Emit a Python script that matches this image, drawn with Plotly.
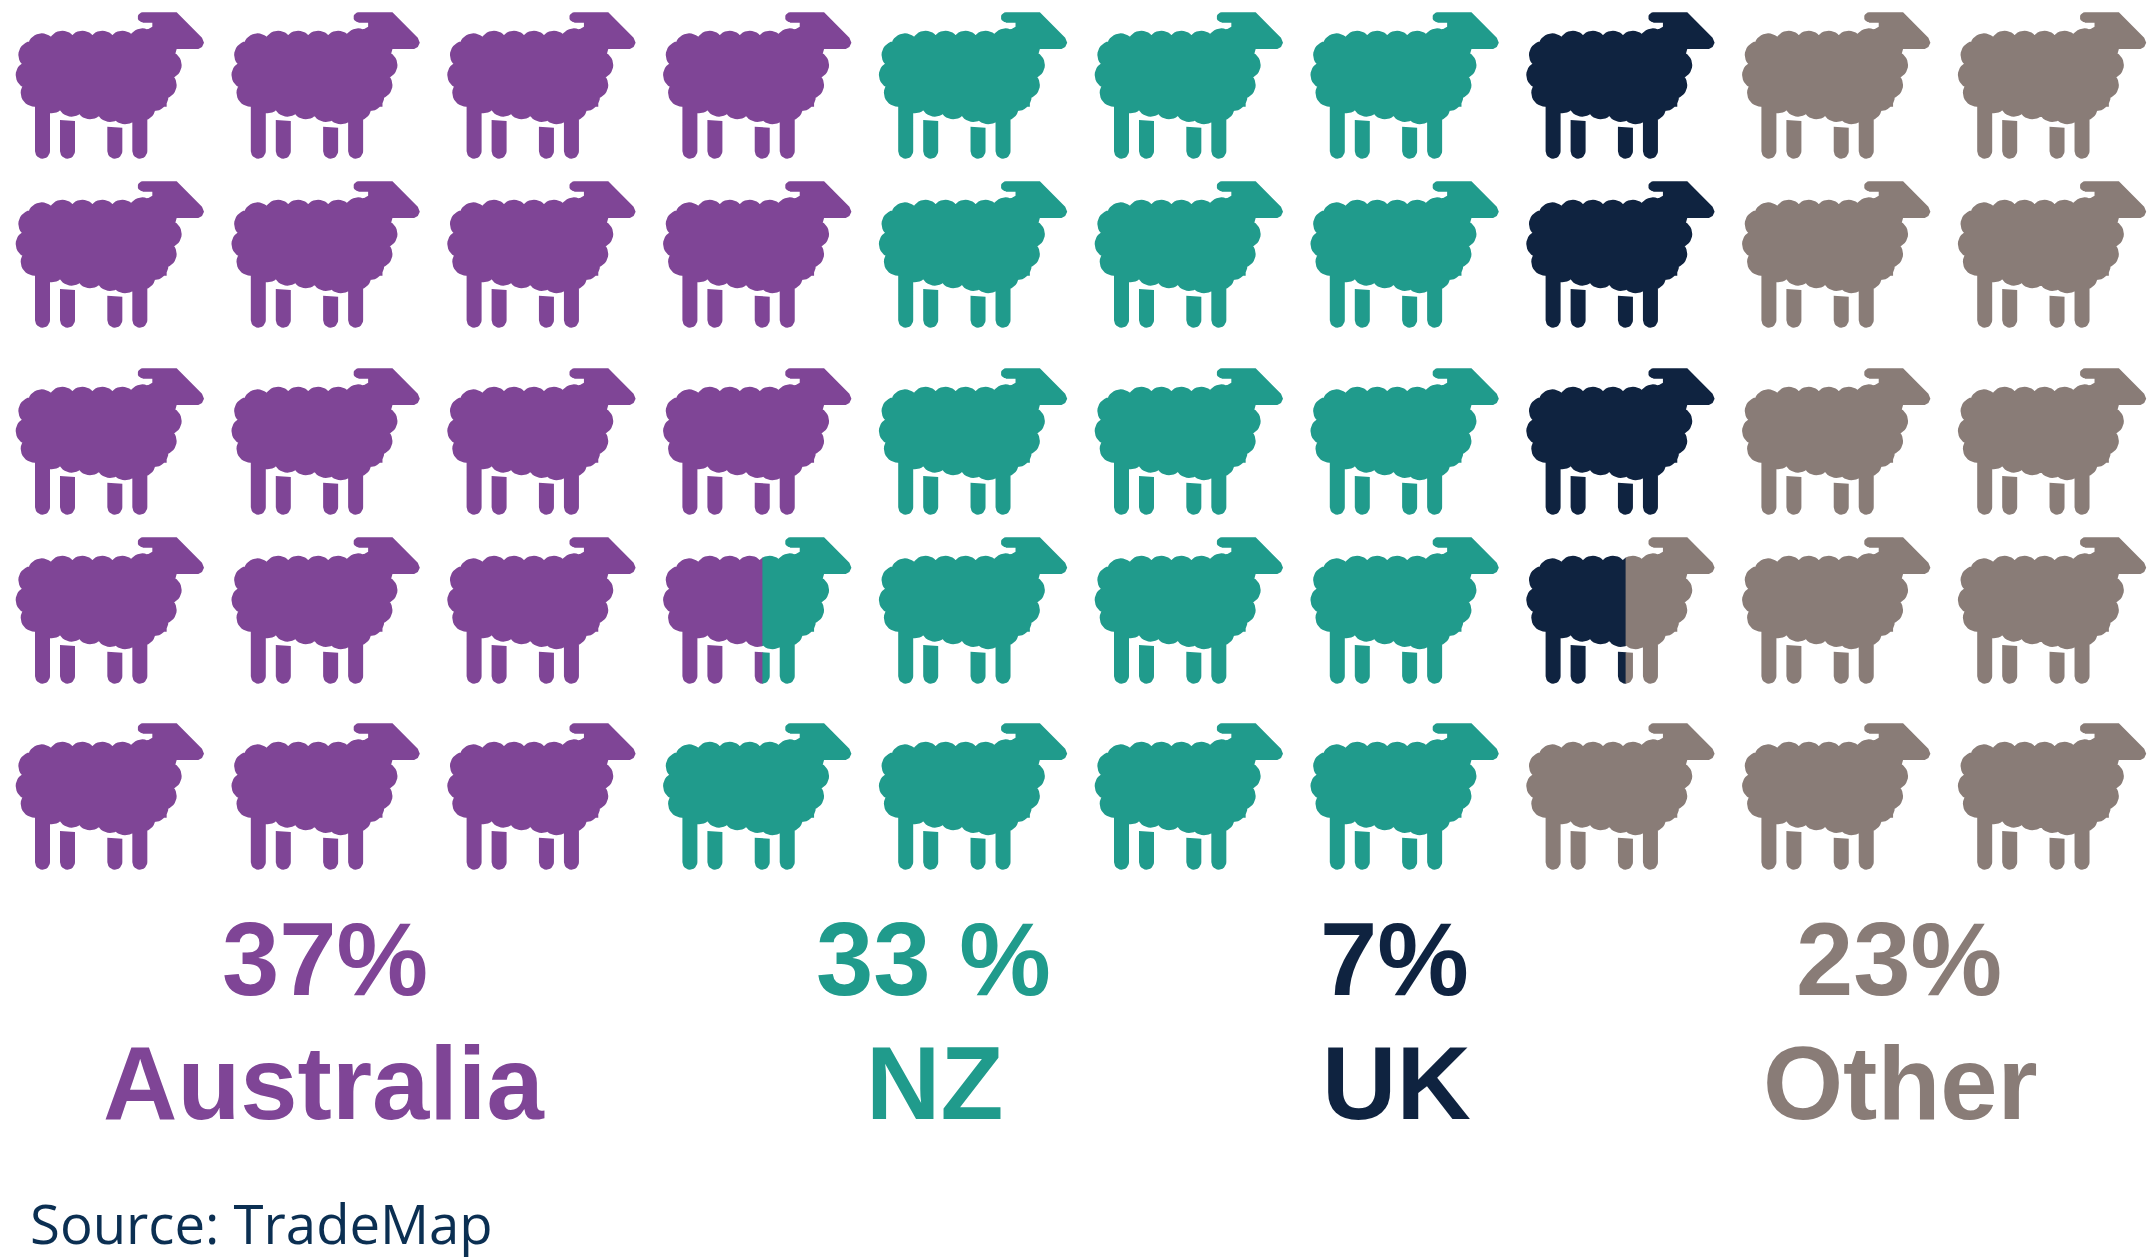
import math
import plotly.graph_objects as go

REGIONS = ["Australia", "NZ", "UK", "Other"]
SHARES = [37, 33, 7, 23]
SHARE_LABELS = ["37%", "33 %", "7%", "23%"]
COLORS = ["#7F4596", "#209B8C", "#0F2340", "#897C77"]
SOURCE = "Source: TradeMap"

N_COLS = 10
N_ROWS = 5
PCT_PER_SHEEP = 2
COL_X = [16 + 215.8 * c for c in range(N_COLS)]
ROW_Y = [0, 169, 356, 525, 711]
SHARE_LABEL_X = [325, 933, 1394, 1899]
NAME_LABEL_X = [323, 934, 1396, 1900]

# Sheep glyph in local pixels (origin at top-left of first sheep's box)
S = 1 / 3
WOOL = [(125,142),(187,134),(247,134),(307,134),(367,134),(427,127),
        (97,165),(89,225),(104,278),(155,298),(215,308),(270,316),(330,324),
        (375,331),(425,321),(463,291),(488,255),(503,195)]
WOOL_R = 42
BODY = [(110,130),(500,130),(500,320),(110,320)]
HEAD = [(428,37),(530,37),(606,113),(612,128),(606,141),(595,147),(530,147),(515,200),(440,200),
        (440,90),(457,80),(457,68),(428,68)]
NOSE = (428,52,15)
LEGS = [(105,150,300,300),(180,225,360,363),(322,367,380,383),(397,442,340,340)]
LEG_BOTTOM = 476
GLYPH_X0 = 16
SPLIT_LOCAL_X = 115


def circle(cx, cy, r, n=36):
    return [(cx + r * math.cos(-2*math.pi*i/n), cy + r * math.sin(-2*math.pi*i/n)) for i in range(n)]


def orient(p):
    a = sum(p[i][0]*p[(i+1) % len(p)][1] - p[(i+1) % len(p)][0]*p[i][1] for i in range(len(p)))
    return p if a < 0 else p[::-1]


def leg(x0, x1, top0, top1):
    r = (x1 - x0) / 2
    cx = (x0 + x1) / 2
    cy = LEG_BOTTOM - r
    pts = [(x0, top0), (x1, top1)]
    for i in range(13):
        t = math.pi * i / 12
        pts.append((cx + r * math.cos(t), cy + r * math.sin(t)))
    return pts


GLYPH = [orient(BODY), orient(HEAD), orient(circle(*NOSE, n=20))]
GLYPH += [orient(circle(x, y, WOOL_R)) for x, y in WOOL]
GLYPH += [orient(leg(*l)) for l in LEGS]
GLYPH = [[(x*S, y*S) for x, y in p] for p in GLYPH]


def clip(poly, split, keep_left):
    out = []
    for i in range(len(poly)):
        a, b = poly[i], poly[(i+1) % len(poly)]
        ina = a[0] <= split if keep_left else a[0] >= split
        inb = b[0] <= split if keep_left else b[0] >= split
        if ina:
            out.append(a)
        if ina != inb:
            t = (split - a[0]) / (b[0] - a[0])
            out.append((split, a[1] + t * (b[1] - a[1])))
    return out


# Walk the shares column by column: each sheep is worth PCT_PER_SHEEP percent
xs = {i: [] for i in range(len(REGIONS))}
ys = {i: [] for i in range(len(REGIONS))}


def add(i, col, row, polys):
    for p in polys:
        if not p:
            continue
        for x, y in p + [p[0]]:
            xs[i].append(x - GLYPH_X0 + COL_X[col])
            ys[i].append(y + ROW_Y[row])
        xs[i].append(None)
        ys[i].append(None)


bounds = []
tot = 0
for s in SHARES:
    bounds.append((tot, tot + s))
    tot += s

for col in range(N_COLS):
    for row in range(N_ROWS):
        start = (col * N_ROWS + row) * PCT_PER_SHEEP
        end = start + PCT_PER_SHEEP
        parts = [(i, max(a, start), min(b, end)) for i, (a, b) in enumerate(bounds) if min(b, end) > max(a, start)]
        if len(parts) == 1:
            add(parts[0][0], col, row, GLYPH)
        else:
            # the left part runs a hair under the right one, so no seam shows
            add(parts[0][0], col, row, [clip(p, SPLIT_LOCAL_X + 0.7, True) for p in GLYPH])
            add(parts[1][0], col, row, [clip(p, SPLIT_LOCAL_X, False) for p in GLYPH])

fig = go.Figure()
for i, name in enumerate(REGIONS):
    fig.add_trace(go.Scatter(x=xs[i], y=ys[i], mode="lines", fill="toself", fillcolor=COLORS[i],
                             line=dict(width=0, color=COLORS[i]), name=name, hoverinfo="name", showlegend=False))

for i, name in enumerate(REGIONS):
    fig.add_annotation(x=SHARE_LABEL_X[i], y=959, text=f"<b>{SHARE_LABELS[i]}</b>", showarrow=False, xanchor="center", yanchor="middle",
                       font=dict(family="Liberation Sans", size=103, color=COLORS[i]))
    fig.add_annotation(x=NAME_LABEL_X[i], y=1083, text=f"<b>{name}</b>", showarrow=False, xanchor="center", yanchor="middle",
                       font=dict(family="Liberation Sans", size=103, color=COLORS[i]))
fig.add_annotation(x=28, y=1223, text=SOURCE, showarrow=False, xanchor="left", yanchor="middle",
                   font=dict(family="Open Sans", size=54.5, color="#0B2F52"))

fig.update_layout(width=2155, height=1260, margin=dict(l=0, r=0, t=0, b=0), autosize=False,
                  paper_bgcolor="white", plot_bgcolor="white", showlegend=False,
                  xaxis=dict(range=[0, 2155], visible=False, fixedrange=True),
                  yaxis=dict(range=[1260, 0], visible=False, fixedrange=True))
fig.write_html("out.html", config={"displayModeBar": False},
               post_script="document.body.style.margin='0';document.documentElement.style.overflow='hidden';")
